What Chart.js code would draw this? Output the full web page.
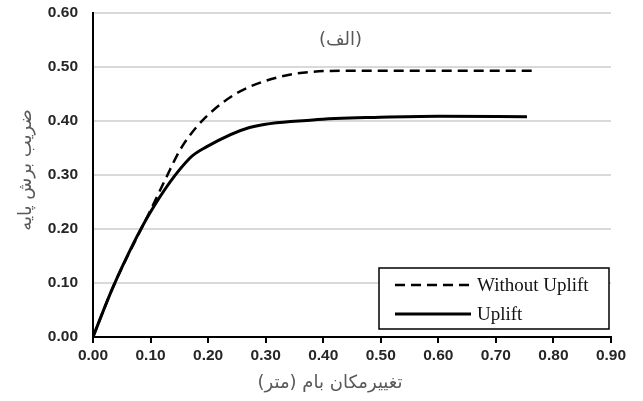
<!DOCTYPE html>
<html>
<head>
<meta charset="utf-8">
<script src="https://cdn.jsdelivr.net/npm/chart.js@4"></script>
<style>
  html, body { margin: 0; padding: 0; background: #fff; }
  #wrap { width: 643px; height: 401px; }
</style>
</head>
<body>
<div id="wrap"><canvas id="c" width="643" height="401"></canvas></div>
<script>
// values
const withoutX = [0, 0.035, 0.0986, 0.128, 0.151, 0.18, 0.209, 0.249, 0.296, 0.354, 0.44, 0.6, 0.772];
const withoutY = [0, 0.093, 0.232, 0.297, 0.346, 0.389, 0.42, 0.451, 0.473, 0.488, 0.493, 0.493, 0.493];
const upliftX = [0, 0.035, 0.0986, 0.168, 0.197, 0.272, 0.382, 0.499, 0.6, 0.754];
const upliftY = [0, 0.093, 0.229, 0.331, 0.352, 0.388, 0.402, 0.407, 0.409, 0.408];
const seriesLabels = ['Without Uplift', 'Uplift'];
const xTitle = 'تغییرمکان بام (متر)';
const yTitle = 'ضریب برش پایه';
const panelLabel = '(الف)';

const toPoints = (xs, ys) => xs.map((x, i) => ({ x, y: ys[i] }));

// legend box, axis titles and panel label drawn by hand
const extras = {
    id: 'extras',
    afterDraw(chart) {
        const ctx = chart.ctx;
        const x0 = 379, y0 = 268, w = 230, h = 61;
        ctx.save();
        ctx.fillStyle = '#fff';
        ctx.fillRect(x0, y0, w, h);
        ctx.strokeStyle = '#000';
        ctx.lineWidth = 1.5;
        ctx.strokeRect(x0, y0, w, h);
        chart.data.datasets.forEach((ds, i) => {
            const ly = y0 + 17 + i * 29;
            ctx.beginPath();
            ctx.setLineDash(ds.borderDash || []);
            ctx.lineWidth = ds.borderWidth;
            ctx.strokeStyle = ds.borderColor;
            ctx.moveTo(x0 + 16, ly);
            ctx.lineTo(x0 + 92, ly);
            ctx.stroke();
            ctx.setLineDash([]);
            ctx.fillStyle = '#111';
            ctx.font = '19px "Liberation Serif", "Times New Roman", serif';
            ctx.textBaseline = 'middle';
            ctx.textAlign = 'left';
            ctx.fillText(ds.label, x0 + 98, ly + 1);
        });

        const xs = chart.scales.x, ys = chart.scales.y;
        ctx.fillStyle = '#595959';
        ctx.textAlign = 'center';
        ctx.textBaseline = 'middle';
        ctx.font = '18px "DejaVu Sans", sans-serif';
        ctx.fillText(panelLabel, xs.getPixelForValue(0.43), ys.getPixelForValue(0.55));

        ctx.font = '18px "DejaVu Sans", sans-serif';
        ctx.fillText(xTitle, 330, 383);

        ctx.translate(26, 170);
        ctx.rotate(-Math.PI / 2);
        ctx.fillText(yTitle, 0, 0);
        ctx.restore();
    }
};

new Chart(document.getElementById('c'), {
    type: 'line',
    data: {
        datasets: [
            {
                label: seriesLabels[0],
                data: toPoints(withoutX, withoutY),
                borderColor: '#000',
                borderWidth: 2.5,
                borderDash: [10, 6],
                pointRadius: 0,
                cubicInterpolationMode: 'monotone',
                fill: false
            },
            {
                label: seriesLabels[1],
                data: toPoints(upliftX, upliftY),
                borderColor: '#000',
                borderWidth: 3,
                pointRadius: 0,
                cubicInterpolationMode: 'monotone',
                fill: false
            }
        ]
    },
    options: {
        responsive: false,
        animation: false,
        devicePixelRatio: 1,
        layout: { padding: { top: 13, right: 32, left: 0, bottom: 0 } },
        plugins: {
            legend: { display: false },
            tooltip: { enabled: false }
        },
        scales: {
            x: {
                type: 'linear',
                min: 0,
                max: 0.9,
                afterFit(scale) { scale.height = 64; },
                border: { color: '#000', width: 2 },
                grid: {
                    display: true,
                    drawOnChartArea: false,
                    drawTicks: true,
                    tickLength: 6,
                    color: '#000',
                    lineWidth: 2
                },
                ticks: {
                    stepSize: 0.1,
                    maxRotation: 0,
                    autoSkip: false,
                    color: '#262626',
                    padding: 3,
                    font: { family: '"Liberation Sans", Arial, sans-serif', size: 15.5, weight: 'bold' },
                    callback: v => v.toFixed(2)
                }
            },
            y: {
                min: 0,
                max: 0.6,
                afterFit(scale) {
                    scale.width = 93;
                    // tick padding would otherwise be added above the axis
                    scale.paddingTop = 0;
                    scale.paddingBottom = 0;
                },
                border: { color: '#000', width: 2 },
                grid: {
                    color: '#d9d9d9',
                    lineWidth: 2,
                    drawTicks: false
                },
                ticks: {
                    stepSize: 0.1,
                    color: '#262626',
                    padding: 15,
                    font: { family: '"Liberation Sans", Arial, sans-serif', size: 15.5, weight: 'bold' },
                    callback: v => v.toFixed(2)
                }
            }
        }
    },
    plugins: [extras]
});
</script>
</body>
</html>
